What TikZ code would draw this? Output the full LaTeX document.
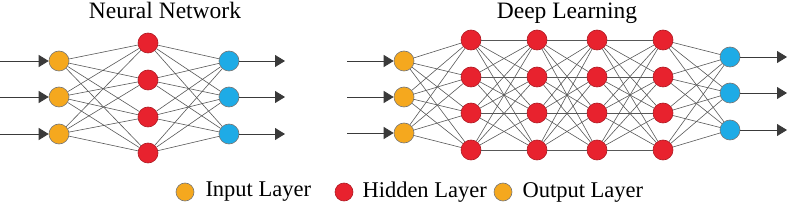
\documentclass[tikz,border=0pt]{standalone}
\usepackage{fontspec}
\setmainfont{Liberation Serif}
\usetikzlibrary{arrows.meta,positioning}
\definecolor{ink}{HTML}{3A3A3A}
\definecolor{inorange}{HTML}{F5A81E}
\definecolor{hidred}{HTML}{E8222E}
\definecolor{outblue}{HTML}{1EABE6}

\begin{document}
\begin{tikzpicture}[x=1pt, y=-1pt,
      every node/.style={font=\fontsize{22.5}{26}\selectfont},
      neuron/.style={circle, draw=ink!70, line width=0.6pt, minimum size=20pt, inner sep=0pt},
      innode/.style={neuron, fill=inorange},
      hidnode/.style={neuron, fill=hidred, draw=hidred!75!black},
      outnode/.style={neuron, fill=outblue},
      legdot/.style={neuron, minimum size=18pt},
      link/.style={draw=ink!85, line width=0.6pt},
      flow/.style={draw=ink, line width=0.9pt, -{Triangle[length=10pt,width=12pt]}}]
    \useasboundingbox (0,0) rectangle (789,208);

    % titles
    \node[anchor=base, font=\fontsize{23.5}{28}\selectfont] (tnn) at (165,19) {Neural Network};
    \node[anchor=base, font=\fontsize{23.5}{28}\selectfont] (tdl) at (567,19) {Deep Learning};

    % neural network
    \foreach \y [count=\i] in {61,97,134} {
      \node[innode] (ni\i) at (59,\y) {};
      \node[outnode] (no\i) at (229,\y) {};
      \coordinate (nis\i) at (0,\y);
      \coordinate (noe\i) at (285,\y);
    }
    \foreach \y [count=\j] in {43,80,117,153}
      \node[hidnode] (nh\j) at (148,\y) {};
    \foreach \i in {1,2,3} \foreach \j in {1,...,4} {
      \draw[link] (ni\i) -- (nh\j);
      \draw[link] (nh\j) -- (no\i);
    }
    \foreach \i in {1,2,3} {
      \draw[flow] (nis\i) -- (ni\i);
      \draw[flow] (no\i) -- (noe\i);
    }

    % deep learning
    \foreach \y [count=\i] in {61,97,133} {
      \node[innode] (di\i) at (404,\y) {};
      \coordinate (dis\i) at (347,\y);
    }
    \foreach \y [count=\i] in {57,93,130} {
      \node[outnode] (do\i) at (730,\y) {};
      \coordinate (doe\i) at (787,\y);
    }
    \foreach \x [count=\k] in {471,537,597,663}
      \foreach \y [count=\j] in {40,77,113,150}
        \node[hidnode] (dh\k\j) at (\x,\y) {};
    \foreach \i in {1,2,3} \foreach \j in {1,...,4} {
      \draw[link] (di\i) -- (dh1\j);
      \draw[link] (dh4\j) -- (do\i);
    }
    \foreach \k [evaluate=\k as \n using int(\k+1)] in {1,2,3}
      \foreach \j in {1,...,4} \foreach \m in {1,...,4}
        \draw[link] (dh\k\j) -- (dh\n\m);
    \foreach \i in {1,2,3} {
      \draw[flow] (dis\i) -- (di\i);
      \draw[flow] (do\i) -- (doe\i);
    }

    % legend
    \node[legdot, fill=inorange] (lin) at (185,192) {};
    \node[right=11pt of lin, inner sep=0pt] (lint) {Input Layer};
    \node[legdot, fill=hidred, draw=hidred!75!black] (lhid) at (344,192) {};
    \node[right=9pt of lhid, inner sep=0pt] (lhidt) {Hidden Layer};
    \node[legdot, fill=inorange] (lout) at (503,192) {};
    \node[right=10pt of lout, inner sep=0pt] (loutt) {Output Layer};
  \end{tikzpicture}
\end{document}
